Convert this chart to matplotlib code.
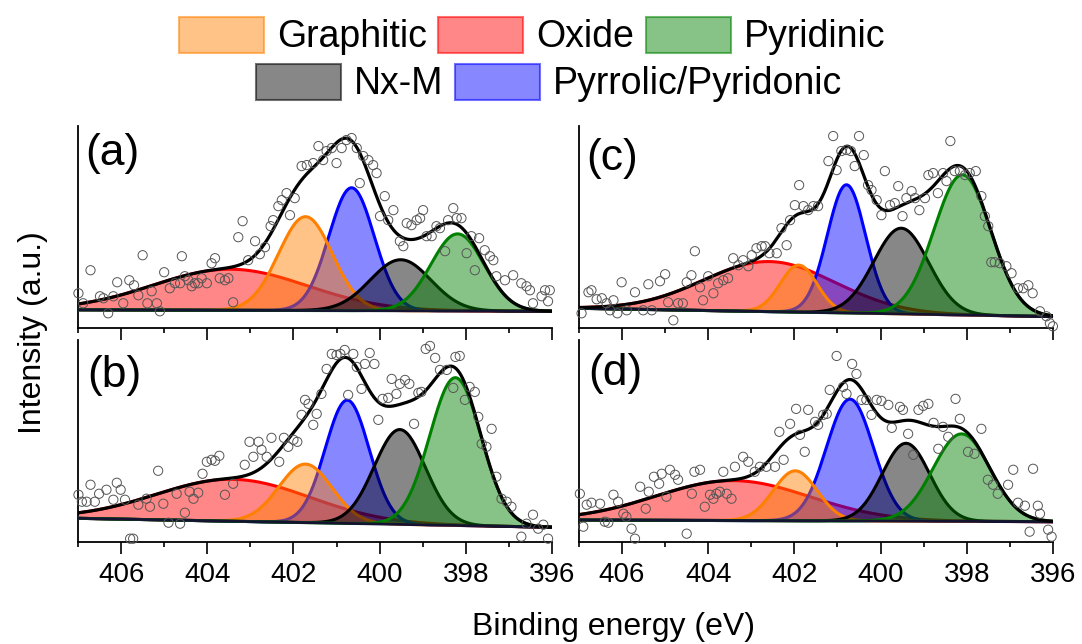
import numpy as np
import matplotlib
matplotlib.use('Agg')
from matplotlib import pyplot as plt
from matplotlib.patches import Patch
from matplotlib.ticker import MultipleLocator

plt.rcParams['font.family'] = ['Liberation Sans', 'DejaVu Sans']

# components, in drawing order
names = ['Oxide', 'Pyrrolic/Pyridonic', 'Graphitic', 'Nx-M', 'Pyridinic']
fill_colors = ['#FF0000', '#0000FF', '#FF8000', '#000000', '#008000']
line_colors = ['#FF0000', '#0000FF', '#FF8000', '#000000', '#008000']

# fitted peaks per panel: centre (eV), height (a.u.), FWHM (eV)
centers = {
    'a': [403.47, 400.65, 401.72, 399.51, 398.19],
    'b': [403.40, 400.75, 401.72, 399.53, 398.24],
    'c': [402.58, 400.79, 401.90, 399.52, 398.10],
    'd': [403.43, 400.71, 401.98, 399.41, 398.12],
}
heights = {
    'a': [41, 122.7, 93.7, 51, 77],
    'b': [42, 123.4, 58.6, 95, 148],
    'c': [50, 128, 47, 85.6, 140],
    'd': [40, 122, 50, 78, 87.6],
}
fwhms = {
    'a': [4.2, 1.24, 1.47, 1.65, 1.45],
    'b': [4.2, 1.2, 1.45, 1.4, 1.4],
    'c': [3.6, 1.05, 1.0, 1.5, 1.55],
    'd': [4.2, 1.28, 1.2, 1.3, 1.55],
}
# linear background at 407 eV and 396 eV
backgrounds = {
    'a': [18.5, 17.0],
    'b': [23.4, 14.4],
    'c': [20.0, 11.7],
    'd': [21.7, 20.0],
}

# measured points (eV, a.u.)
data_x = {}
data_y = {}
data_x['a'] = [406.99, 406.88, 406.71, 406.49, 406.41, 406.30, 406.18, 406.09, 405.95, 405.81,
               405.70, 405.60, 405.50, 405.39, 405.29, 405.17, 405.10, 405.00, 404.87, 404.75,
               404.63, 404.59, 404.52, 404.44, 404.36, 404.29, 404.21, 404.13, 404.01, 403.90,
               403.82, 403.71, 403.59, 403.51, 403.40, 403.28, 403.18, 403.05, 402.89, 402.78,
               402.66, 402.53, 402.47, 402.35, 402.27, 402.16, 402.08, 401.97, 401.81, 401.69,
               401.54, 401.42, 401.31, 401.23, 401.11, 401.00, 400.88, 400.77, 400.65, 400.53,
               400.46, 400.38, 400.26, 400.15, 400.07, 399.99, 399.88, 399.80, 399.68, 399.53,
               399.45, 399.37, 399.26, 399.14, 399.06, 398.99, 398.91, 398.79, 398.68, 398.60,
               398.48, 398.41, 398.29, 398.21, 398.10, 397.98, 397.87, 397.79, 397.69, 397.56,
               397.44, 397.36, 397.29, 397.09, 396.90, 396.71, 396.59, 396.51, 396.44, 396.24,
               396.16, 396.09, 396.05]
data_y['a'] = [35, 25, 58, 32, 30, 15, 32, 46, 25, 48,
               43, 33, 73, 25, 37, 25, 17, 56, 40, 45,
               45, 72, 52, 48, 42, 45, 45, 50, 45, 65,
               70, 50, 48, 50, 26, 91, 107, 68, 87, 74,
               81, 102, 108, 122, 128, 135, 113, 130, 162, 163,
               165, 182, 168, 177, 180, 165, 180, 188, 190, 180,
               145, 172, 168, 163, 155, 112, 132, 108, 118, 87,
               82, 105, 103, 108, 110, 118, 92, 92, 102, 100,
               77, 108, 120, 110, 110, 75, 92, 58, 90, 78,
               72, 68, 52, 48, 53, 45, 42, 38, 25, 32,
               38, 27, 38]
data_x['b'] = [406.99, 406.91, 406.80, 406.71, 406.61, 406.51, 406.34, 406.18, 406.10, 406.01,
               405.91, 405.79, 405.72, 405.60, 405.41, 405.33, 405.14, 405.02, 404.90, 404.71,
               404.63, 404.52, 404.41, 404.32, 404.21, 404.11, 404.01, 403.90, 403.82, 403.72,
               403.59, 403.40, 403.13, 403.02, 402.93, 402.81, 402.74, 402.62, 402.51, 402.33,
               402.22, 402.12, 402.00, 401.91, 401.81, 401.73, 401.65, 401.54, 401.46, 401.35,
               401.23, 401.11, 401.00, 400.91, 400.81, 400.73, 400.61, 400.53, 400.42, 400.34,
               400.23, 400.12, 400.03, 399.93, 399.80, 399.72, 399.61, 399.53, 399.41, 399.31,
               399.20, 399.10, 399.03, 398.93, 398.83, 398.71, 398.60, 398.44, 398.29, 398.24,
               398.14, 398.02, 397.91, 397.79, 397.71, 397.63, 397.52, 397.40, 397.29, 397.17,
               397.05, 396.94, 396.71, 396.59, 396.44, 396.32, 396.20, 396.09]
data_y['b'] = [47, 40, 40, 57, 40, 48, 52, 42, 59, 52,
               42, 3, 3, 37, 43, 35, 71, 38, 19, 48,
               18, 29, 50, 43, 49, 68, 80, 82, 81, 86,
               47, 58, 77, 100, 85, 100, 92, 85, 104, 80,
               104, 95, 102, 100, 127, 142, 138, 117, 128, 148,
               173, 188, 187, 188, 192, 147, 188, 175, 153, 178,
               189, 178, 122, 143, 144, 163, 148, 158, 162, 158,
               118, 149, 150, 193, 196, 184, 172, 172, 154, 185,
               186, 142, 155, 150, 125, 98, 95, 113, 65, 43,
               40, 35, 5, 18, 27, 13, 17, 3]
data_x['c'] = [406.94, 406.78, 406.71, 406.59, 406.47, 406.36, 406.28, 406.20, 406.11, 406.01,
               405.89, 405.70, 405.51, 405.39, 405.31, 405.12, 405.00, 404.93, 404.81, 404.70,
               404.59, 404.50, 404.39, 404.31, 404.19, 404.12, 404.00, 403.88, 403.77, 403.65,
               403.54, 403.42, 403.30, 403.19, 403.07, 402.99, 402.88, 402.76, 402.68, 402.58,
               402.41, 402.30, 402.18, 402.10, 401.99, 401.89, 401.79, 401.68, 401.56, 401.45,
               401.21, 401.10, 401.02, 400.91, 400.79, 400.69, 400.60, 400.50, 400.39, 400.29,
               400.21, 400.09, 399.98, 399.90, 399.78, 399.67, 399.59, 399.49, 399.40, 399.28,
               399.20, 399.10, 398.97, 398.89, 398.78, 398.67, 398.55, 398.47, 398.38, 398.28,
               398.16, 398.04, 397.93, 397.79, 397.66, 397.58, 397.50, 397.43, 397.35, 397.23,
               397.08, 396.96, 396.81, 396.69, 396.57, 396.47, 396.30, 396.15, 396.07, 396.00]
data_y['c'] = [15, 36, 38, 29, 30, 25, 18, 28, 15, 46,
               18, 36, 18, 44, 18, 47, 54, 26, 8, 25,
               25, 46, 53, 77, 41, 28, 52, 35, 45, 48,
               50, 70, 63, 68, 62, 73, 80, 82, 82, 75,
               75, 100, 83, 108, 123, 143, 122, 118, 122, 122,
               167, 192, 158, 177, 178, 177, 162, 192, 173, 143,
               138, 128, 113, 157, 123, 125, 142, 112, 130, 137,
               130, 118, 130, 153, 155, 135, 155, 147, 187, 157,
               157, 153, 155, 157, 132, 112, 102, 66, 66, 65,
               62, 55, 40, 40, 43, 35, 17, 12, 5, 2]
data_x['d'] = [406.98, 406.90, 406.82, 406.71, 406.51, 406.40, 406.32, 406.20, 406.09, 405.97,
               405.90, 405.78, 405.70, 405.58, 405.45, 405.38, 405.26, 405.14, 405.08, 404.97,
               404.89, 404.77, 404.70, 404.50, 404.38, 404.32, 404.19, 404.08, 403.96, 403.88,
               403.81, 403.73, 403.65, 403.57, 403.46, 403.38, 403.19, 403.07, 402.92, 402.80,
               402.65, 402.45, 402.35, 402.25, 402.10, 401.96, 401.87, 401.76, 401.68, 401.52,
               401.45, 401.33, 401.25, 401.18, 401.02, 400.87, 400.79, 400.66, 400.56, 400.44,
               400.33, 400.21, 400.09, 399.98, 399.82, 399.74, 399.55, 399.48, 399.36, 399.24,
               399.12, 399.01, 398.89, 398.77, 398.66, 398.55, 398.43, 398.26, 398.16, 397.97,
               397.82, 397.66, 397.51, 397.39, 397.28, 397.04, 396.92, 396.81, 396.65, 396.54,
               396.46, 396.35, 396.30, 396.11, 396.03]
data_y['d'] = [48, 15, 37, 39, 38, 20, 19, 47, 40, 28,
               25, 13, 3, 55, 33, 50, 65, 58, 68, 45,
               72, 67, 62, 8, 48, 70, 72, 35, 47, 43,
               48, 50, 70, 48, 43, 75, 85, 80, 70, 75,
               75, 75, 110, 82, 118, 133, 107, 90, 132, 120,
               117, 127, 128, 152, 186, 155, 148, 178, 168, 142,
               142, 127, 142, 141, 137, 114, 135, 132, 108, 87,
               132, 136, 138, 119, 93, 115, 105, 143, 123, 90,
               88, 113, 62, 57, 48, 57, 72, 39, 36, 10,
               73, 36, 28, 12, 5]

panels = ['a', 'b', 'c', 'd']
# axes rectangles in figure fraction
rects = {
    'a': [0.0721, 0.4902, 0.438, 0.3141],
    'b': [0.0721, 0.1589, 0.438, 0.3132],
    'c': [0.5351, 0.4902, 0.438, 0.3141],
    'd': [0.5351, 0.1589, 0.438, 0.3132],
}
label_pos = {'a': (0.015, 0.965), 'b': (0.019, 0.925), 'c': (0.015, 0.94), 'd': (0.02, 0.935)}


def gauss(x, c, h, w):
    s = w / 2.3548
    return h * np.exp(-0.5 * ((x - c) / s) ** 2)


fig = plt.figure(figsize=(10.82, 6.44), dpi=100)
x = np.linspace(396, 407, 600)

for p in panels:
    ax = fig.add_axes(rects[p])
    b0, b1 = backgrounds[p]
    bg = b1 + (b0 - b1) * (x - 396) / 11.0
    total = bg.copy()
    for i in range(len(names)):
        g = gauss(x, centers[p][i], heights[p][i], fwhms[p][i])
        total += g
        ax.fill_between(x, bg, bg + g, color=fill_colors[i], alpha=0.47, lw=0, zorder=2 + i)
        ax.plot(x, bg + g, color=line_colors[i], lw=2.2, zorder=2 + i)
    ax.plot(x, bg, color='#141432', lw=2.0, zorder=8)
    ax.plot(x, total, color='black', lw=2.3, zorder=9)
    ax.scatter(data_x[p], data_y[p], s=44, facecolors='none', edgecolors='#555555',
               linewidths=0.7, zorder=10, clip_on=False)

    ax.set_xlim(407, 396)
    ax.set_ylim(0, 202)
    ax.xaxis.set_major_locator(MultipleLocator(2))
    ax.xaxis.set_minor_locator(MultipleLocator(1))
    ax.tick_params(axis='x', which='major', direction='out', length=8.5, width=1.2, labelsize=20, pad=6)
    ax.tick_params(axis='x', which='minor', direction='out', length=3.6, width=1.2)
    ax.set_yticks([])
    for side in ['top', 'right']:
        ax.spines[side].set_visible(False)
    for side in ['left', 'bottom']:
        ax.spines[side].set_linewidth(1.3)
    if p in ('a', 'c'):
        ax.tick_params(axis='x', labelbottom=False)
    ax.text(label_pos[p][0], label_pos[p][1], '(' + p + ')', transform=ax.transAxes,
            fontsize=32, ha='left', va='top', zorder=11)


def legend_patch(color, label):
    rgb = matplotlib.colors.to_rgb(color)
    return Patch(facecolor=rgb + (0.47,), edgecolor=rgb + (0.55,), lw=1.5, label=label)


row1 = [legend_patch('#FF8000', 'Graphitic'), legend_patch('#FF0000', 'Oxide'),
        legend_patch('#008000', 'Pyridinic')]
row2 = [legend_patch('#000000', 'Nx-M'), legend_patch('#0000FF', 'Pyrrolic/Pyridonic')]
leg_kw = dict(loc='center', frameon=False, fontsize=27, handlelength=2.27, handleheight=1.1,
              handletextpad=0.35, columnspacing=0.3, borderpad=0, borderaxespad=0)
fig.legend(handles=row1, ncol=3, bbox_to_anchor=(532 / 1082, 1 - 36 / 644), **leg_kw)
fig.legend(handles=row2, ncol=2, bbox_to_anchor=(549 / 1082, 1 - 83 / 644), **leg_kw)

fig.text(33 / 1082, 1 - 333 / 644, 'Intensity (a.u.)', rotation=90, ha='center', va='center', fontsize=23)
fig.text(614 / 1082, 1 - 627 / 644, 'Binding energy (eV)', ha='center', va='center', fontsize=23)

fig.savefig('out.png', dpi=100)
